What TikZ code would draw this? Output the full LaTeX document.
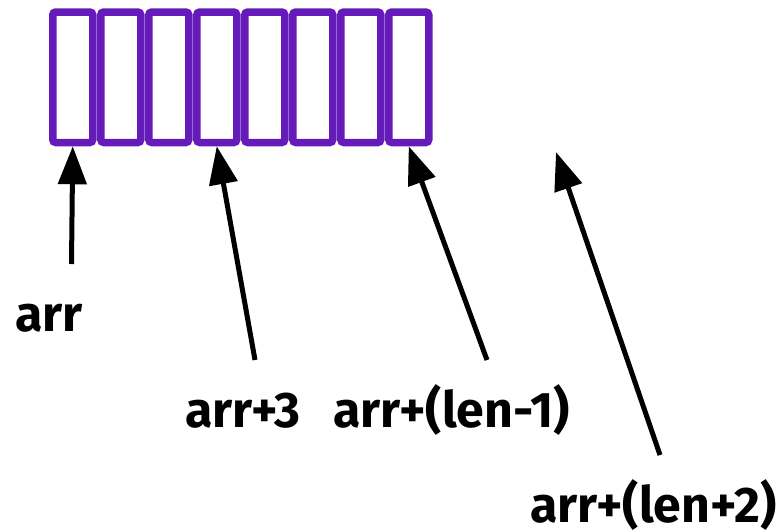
\documentclass[tikz,border=0pt]{standalone}
\usepackage{fontspec}
\setmainfont{Fira Sans}
\usetikzlibrary{arrows.meta}
\definecolor{cellpurple}{RGB}{100,27,185}
\tikzset{
  cell/.style={draw=cellpurple, line width=7.5pt, rounded corners=3pt, minimum width=40pt, minimum height=130.5pt, inner sep=0pt, fill=white},
  ptr/.style={line width=5pt, -{Triangle[length=38pt,width=28pt]}},
  lbl/.style={anchor=base west, inner sep=0pt, font=\fontsize{50}{56}\selectfont\bfseries}
}
\begin{document}
\begin{tikzpicture}[x=1pt,y=-1pt]
\useasboundingbox (0,0) rectangle (781,530);
\foreach \i in {0,...,7} {
  \node[cell] (c\i) at ({72.75+48*\i},77.25) {};
}
\coordinate (p10) at (556,152);
\coordinate (t0) at (71.5,264);
\coordinate (t3) at (255,360);
\coordinate (t7) at (487,360);
\coordinate (t10) at (660,455);
\node[lbl] (l0) at (15,331) {arr};
\node[lbl] (l3) at (185,427) {arr+3};
\node[lbl] (l7) at (333,427) {arr+(len-1)};
\node[lbl] (l10) at (530,522) {arr+(len+2)};
\draw[ptr] (t0) -- (c0.south);
\draw[ptr] (t3) -- (c3.south);
\draw[ptr] (t7) -- (c7.south);
\draw[ptr] (t10) -- (p10);
\end{tikzpicture}
\end{document}
